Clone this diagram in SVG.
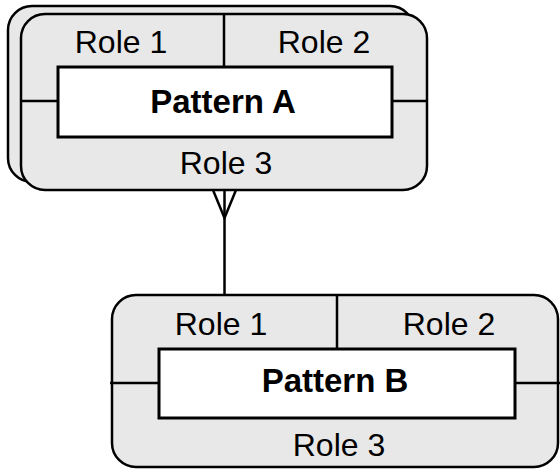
<svg xmlns="http://www.w3.org/2000/svg" width="560" height="469" viewBox="0 0 560 469">
<style>
.outer{fill:#e8e8e8;stroke:#000;stroke-width:2.5}
.inner{fill:#fff;stroke:#000;stroke-width:3}
.ln{stroke:#000;stroke-width:2.5;fill:none}
.role{font-family:"Liberation Sans",Arial,sans-serif;font-size:32px;text-anchor:middle;fill:#000}
.title{font-family:"Liberation Sans",Arial,sans-serif;font-size:33px;font-weight:bold;text-anchor:middle;fill:#000}
</style>
<rect width="560" height="469" fill="#fff"/>
<g id="patternA">
  <rect class="outer" x="8" y="6" width="406" height="176" rx="24"/>
  <rect class="outer" x="21" y="14" width="406" height="176" rx="24"/>
  <line class="ln" x1="224" y1="14" x2="224" y2="67"/>
  <line class="ln" x1="21" y1="101" x2="58" y2="101"/>
  <line class="ln" x1="392" y1="101" x2="427" y2="101"/>
  <rect class="inner" x="58" y="67" width="334" height="70"/>
  <text class="role" x="121" y="53">Role 1</text>
  <text class="role" x="324" y="53">Role 2</text>
  <text class="title" x="223" y="113">Pattern A</text>
  <text class="role" x="226" y="174">Role 3</text>
</g>
<g id="patternB">
  <rect class="outer" x="112" y="295" width="446" height="172" rx="24"/>
  <line class="ln" x1="337" y1="295" x2="337" y2="349"/>
  <line class="ln" x1="110" y1="383" x2="159" y2="383"/>
  <line class="ln" x1="515" y1="383" x2="560" y2="383"/>
  <rect class="inner" x="159" y="349" width="356" height="69"/>
  <text class="role" x="221" y="335">Role 1</text>
  <text class="role" x="449" y="335">Role 2</text>
  <text class="title" x="335" y="392">Pattern B</text>
  <text class="role" x="339" y="456">Role 3</text>
</g>
<g id="connectors">
  <line class="ln" x1="224.5" y1="190" x2="224.5" y2="295"/>
  <polyline class="ln" points="213,190 224.5,218 236,190"/>
</g>
</svg>
